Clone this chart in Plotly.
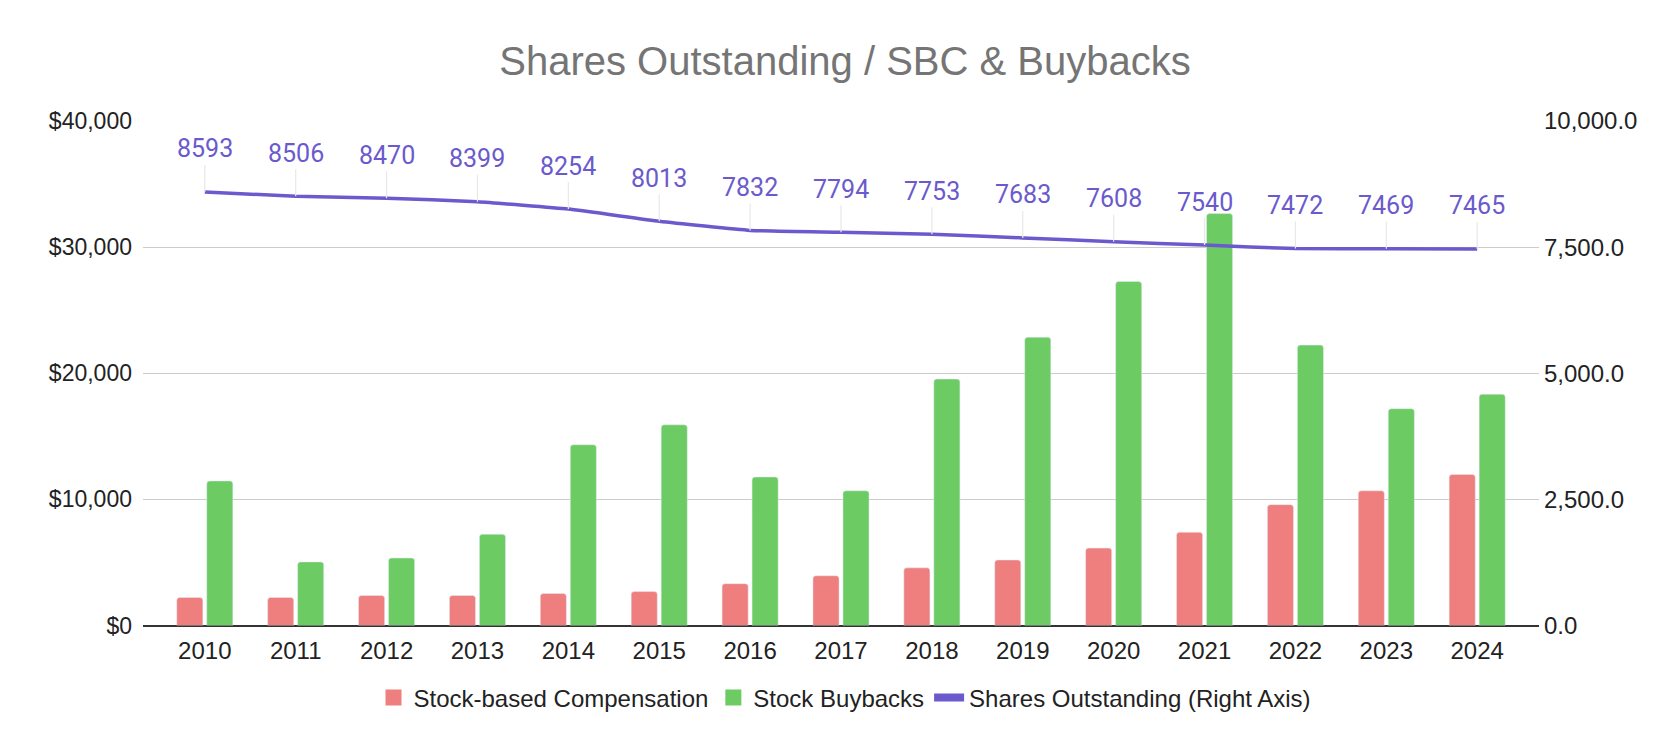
import plotly.graph_objects as go

# --- data ---
years = [str(y) for y in range(2010, 2025)]
sbc = [2219, 2219, 2376, 2376, 2533, 2689, 3316, 3943, 4569, 5196, 6136, 7389, 9582, 10679, 11980]
buybacks = [11462, 5039, 5352, 7232, 14330, 15910, 11775, 10679, 19540, 22860, 27280, 32660, 22230, 17190, 18340]
shares_out = [8593, 8506, 8470, 8399, 8254, 8013, 7832, 7794, 7753, 7683, 7608, 7540, 7472, 7469, 7465]

RED = "#EF7E7E"
GREEN = "#6CCB63"
PURPLE = "#6A5ACD"
ARIAL = "Liberation Sans, Arial, sans-serif"
TICK_FONT = dict(family=ARIAL, size=23, color="#222222")

fig = go.Figure()

fig.add_trace(go.Bar(x=years, y=sbc, name="Stock-based Compensation",
                     marker=dict(color=RED, cornerradius=3), showlegend=False))
fig.add_trace(go.Bar(x=years, y=buybacks, name="Stock Buybacks",
                     marker=dict(color=GREEN, cornerradius=3), showlegend=False))
fig.add_trace(go.Scatter(
    x=years, y=shares_out, name="Shares Outstanding (Right Axis)",
    yaxis="y2", mode="lines", showlegend=False,
    line=dict(color=PURPLE, width=3.5, shape="spline", smoothing=0.4),
))

# legend-only entries so the swatches look like the Sheets ones
for name, col in [("Stock-based Compensation", RED), ("Stock Buybacks", GREEN)]:
    fig.add_trace(go.Scatter(x=[None], y=[None], mode="markers", name=name,
                             marker=dict(symbol="square", size=23, color=col)))
fig.add_trace(go.Scatter(x=[None], y=[None], mode="lines", name="Shares Outstanding (Right Axis)",
                         line=dict(color=PURPLE, width=8)))

# data labels with leader lines
for i, v in enumerate(shares_out):
    fig.add_annotation(
        x=i, y=v, xref="x", yref="y2",
        text=str(v), showarrow=True, arrowhead=0, arrowwidth=1.2,
        arrowcolor="#e8e8e8", ax=0, ay=-43, standoff=0,
        font=dict(family="Roboto", size=25, color=PURPLE),
    )

fig.update_layout(
    width=1674, height=742,
    margin=dict(l=135, r=143, t=113, b=122),
    paper_bgcolor="white", plot_bgcolor="white",
    title=dict(
        text="Shares Outstanding / SBC & Buybacks",
        x=0.5, xanchor="center", y=1 - 53 / 742, yanchor="middle",
        font=dict(family=ARIAL, size=40, color="#757575"),
    ),
    barmode="group", bargap=0.34, bargroupgap=0.13,
    xaxis=dict(
        type="category", range=[-0.68, 14.68],
        showgrid=False, showline=False, ticks="",
        tickfont=dict(family=ARIAL, size=24, color="#222222"), ticklabelstandoff=8,
    ),
    yaxis=dict(
        range=[0, 40000], tickvals=[0, 10000, 20000, 30000, 40000],
        tickformat="$,.0f", showgrid=True, gridcolor="#cccccc", gridwidth=1,
        zeroline=True, zerolinecolor="#333333", zerolinewidth=2,
        tickfont=TICK_FONT, ticklabelstandoff=10,
    ),
    yaxis2=dict(
        overlaying="y", side="right", range=[0, 10000],
        tickvals=[0, 2500, 5000, 7500, 10000], tickformat=",.1f",
        showgrid=False, zeroline=False,
        tickfont=dict(family=ARIAL, size=24, color="#222222"), ticklabelstandoff=4,
    ),
    legend=dict(
        orientation="h", xref="container", x=0.5, xanchor="center",
        yref="container", y=1 - 690 / 742, yanchor="middle",
        font=dict(family=ARIAL, size=24, color="#222222"),
        traceorder="normal", itemwidth=30,
    ),
)

fig.write_html("out.html")
